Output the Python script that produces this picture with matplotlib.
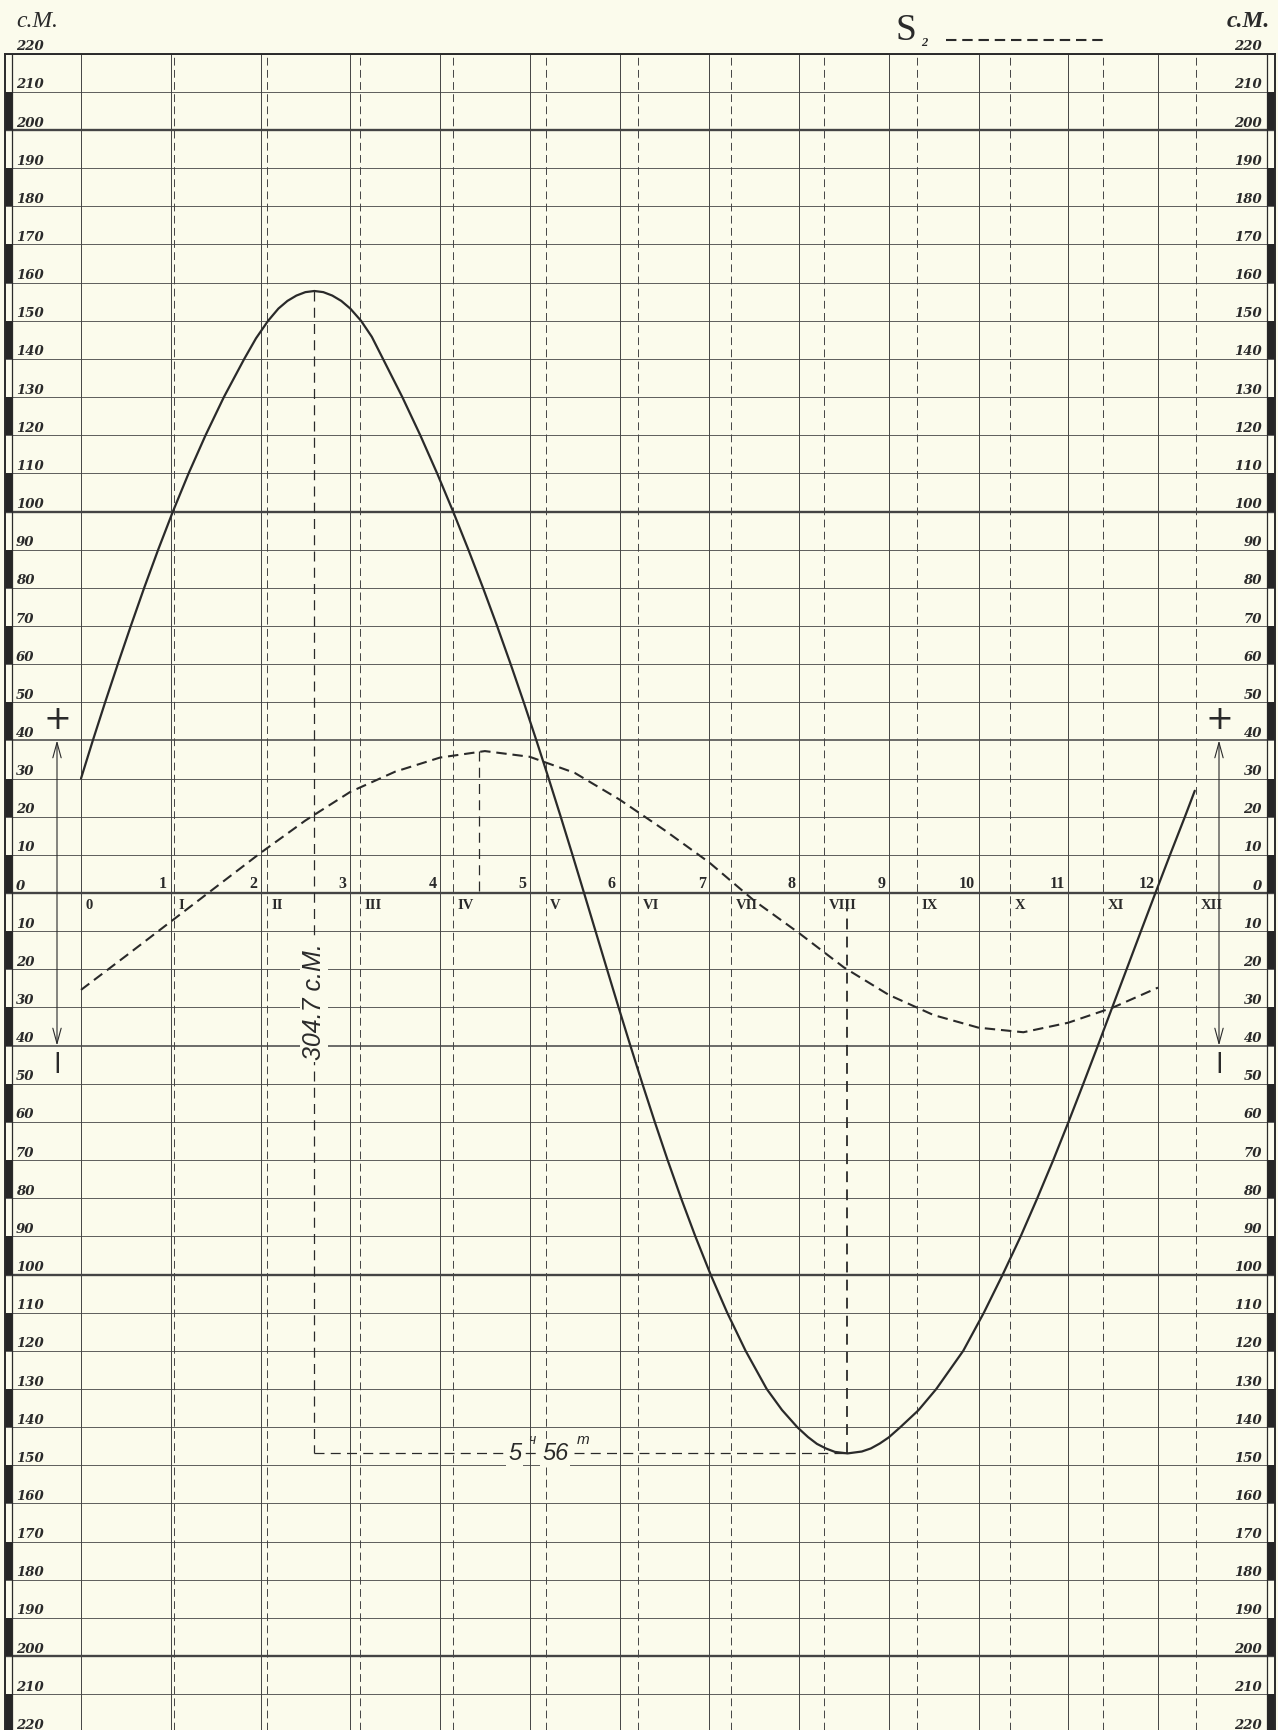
import matplotlib.pyplot as plt
from matplotlib.patches import Rectangle

# ---------------------------------------------------------
# Data (hours, c.M.)
# ---------------------------------------------------------

# plain curve: points where it crosses the 10 c.M. lines, plus extra points round the crest and trough
tide_hours = [0.000, 0.132, 0.269, 0.410, 0.555, 0.704, 0.860, 1.024, 1.199, 1.388,
              1.592, 1.819, 1.950, 2.085, 2.200, 2.300, 2.400, 2.500, 2.600, 2.700,
              2.800, 2.900, 3.000, 3.120, 3.240, 3.365, 3.580, 3.780, 3.968, 4.146,
              4.316, 4.479, 4.636, 4.787, 4.933, 5.074, 5.211, 5.345, 5.476, 5.605,
              5.733, 5.861, 5.990, 6.121, 6.255, 6.393, 6.536, 6.686, 6.845, 7.015,
              7.200, 7.405, 7.640, 7.810, 7.980, 8.100, 8.200, 8.300, 8.400, 8.540,
              8.700, 8.800, 8.900, 9.000, 9.130, 9.330, 9.530, 9.830, 10.060, 10.270,
              10.470, 10.655, 10.833, 11.003, 11.168, 11.330, 11.490, 11.650, 11.810, 11.971,
              12.134, 12.300, 12.410]
tide_cm = [30, 40, 50, 60, 70, 80, 90, 100, 110, 120,
           130, 140, 145.4, 150, 153.2, 155.2, 156.6, 157.5, 157.8, 157.5,
           156.6, 155.2, 153.2, 150, 145.8, 140, 130, 120, 110, 100,
           90, 80, 70, 60, 50, 40, 30, 20, 10, 0,
           -10, -20, -30, -40, -50, -60, -70, -80, -90, -100,
           -110, -120, -130, -135.5, -140, -142.6, -144.4, -145.6, -146.5, -146.9,
           -146.4, -145.6, -144.3, -142.7, -140, -135.6, -130, -120, -110, -100,
           -90, -80, -70, -60, -50, -40, -30, -20, -10, 0,
           10, 20, 26.8]

# dashed curve S2, read every half hour
s2_hours = [0.0, 0.5, 1.0, 1.5, 2.0, 2.5, 3.0, 3.5, 4.0, 4.5, 5.0, 5.5, 6.0,
            6.5, 7.0, 7.5, 8.0, 8.5, 9.0, 9.5, 10.0, 10.5, 11.0, 11.5, 12.0]
s2_cm = [-25.4, -16.5, -7.5, 1.5, 10.5, 19.0, 26.5, 31.8, 35.5, 37.2, 35.7, 31.5, 24.5,
         16.5, 8.0, -2.0, -10.5, -19.5, -26.7, -32.0, -35.3, -36.5, -34.0, -30.0, -24.8]

peak_hour, peak_cm = 2.60, 157.8
trough_hour, trough_cm = 8.54, -146.9
s2_peak_hour, s2_peak_cm = 4.43, 37.2
range_label = '304.7 c.M.'

solar_hours = list(range(0, 13))
lunar_labels = ['0', 'I', 'II', 'III', 'IV', 'V', 'VI', 'VII', 'VIII', 'IX', 'X', 'XI', 'XII']
lunar_hour = 1.0351          # one lunar hour in solar hours
levels = list(range(-220, 221, 10))

# ---------------------------------------------------------
# Page geometry (pixels of the scanned sheet)
# ---------------------------------------------------------
PAPER = '#fbfbec'
INK = '#2a2a2a'
GRID = '#444444'

W, H = 1278, 1730
x0_px, hour_px = 81, 89.75
left_px, right_px = 5, 1275
zero_px, cm_px = 893, 3.815
top_px = zero_px - 220 * cm_px

fig = plt.figure(figsize=(W / 100, H / 100), dpi=100, facecolor=PAPER)
ax = fig.add_axes([left_px / W, 0, (right_px - left_px) / W, (H - top_px) / H])
ax.set_facecolor(PAPER)


def hx(px):
    # sheet pixel column -> hours
    return (px - x0_px) / hour_px


xmin, xmax = hx(left_px), hx(right_px)
ymin = -(H - zero_px) / cm_px
ax.set_xlim(xmin, xmax)
ax.set_ylim(ymin, 220)
ax.set_xticks([])
ax.set_yticks([])
for side in ['left', 'right', 'top']:
    ax.spines[side].set_color(INK)
    ax.spines[side].set_linewidth(1.4)
ax.spines['bottom'].set_visible(False)

inner_left, inner_right = hx(12), hx(1267)

# horizontal lines every 10 c.M.
for v in levels:
    if v % 100 == 0:
        lw = 1.7
    elif abs(v) == 40:
        lw = 1.1
    else:
        lw = 0.6
    ax.axhline(v, color=GRID, lw=lw, zorder=1)

# solar hour lines (plain) and lunar hour lines (dashed)
for h in solar_hours:
    ax.axvline(h, color=GRID, lw=0.7, zorder=1)
for k in range(1, len(lunar_labels)):
    ax.axvline(k * lunar_hour, color=GRID, lw=0.7, ls=(0, (8, 4.5)), zorder=1)

# inner borders and the black/white scale strips
ax.axvline(inner_left, color=INK, lw=0.9, zorder=2)
ax.axvline(inner_right, color=INK, lw=0.9, zorder=2)
for v in levels[:-1]:
    if (v // 10) % 2 == 0:
        ax.add_patch(Rectangle((xmin, v), inner_left - xmin, 10, color='#262626', lw=0, zorder=2))
        ax.add_patch(Rectangle((inner_right, v), xmax - inner_right, 10, color='#262626', lw=0, zorder=2))

# level labels on both sides
lab_left, lab_right = hx(16), hx(1262)
lab_font = dict(family='DejaVu Serif', style='italic', weight='bold', fontsize=9.5, color=INK)
for v in levels:
    ax.text(lab_left, v + 0.9, str(abs(v)), ha='left', va='baseline', clip_on=False, zorder=4, **lab_font)
    ax.text(lab_right, v + 0.9, str(abs(v)), ha='right', va='baseline', clip_on=False, zorder=4, **lab_font)

# hour labels
for h in solar_hours[1:]:
    ax.text(h - 0.04, 1.4, str(h), ha='right', va='baseline', family='Liberation Serif',
            weight='bold', fontsize=11.5, color=INK, zorder=4)
for k, lab in enumerate(lunar_labels):
    ax.text(k * lunar_hour + 0.05, -1.6, lab, ha='left', va='top', family='Liberation Serif',
            weight='bold', fontsize=10.5, color=INK, zorder=4)

# ---------------------------------------------------------
# Curves
# ---------------------------------------------------------
ax.plot(tide_hours, tide_cm, color=INK, lw=1.6, solid_capstyle='round', solid_joinstyle='round', zorder=3)
s2_style = dict(color=INK, lw=1.5, ls=(0, (5, 2.8)))
ax.plot(s2_hours, s2_cm, zorder=3, **s2_style)

# construction lines
ann = dict(color=INK, lw=0.9, ls=(0, (8, 5)), zorder=3)
ax.plot([peak_hour, peak_hour], [peak_cm, trough_cm], **ann)
ax.plot([peak_hour, trough_hour], [trough_cm, trough_cm], **ann)
ax.plot([trough_hour, trough_hour], [trough_cm, 0], color=INK, lw=1.3, ls=(0, (6, 4)), zorder=3)
ax.plot([s2_peak_hour, s2_peak_hour], [s2_peak_cm, 0], **ann)

hand = dict(family='Liberation Sans', style='italic', color=INK, zorder=5)
cover = dict(facecolor=PAPER, edgecolor='none', pad=1.5)
ax.text(peak_hour, -28.5, range_label, rotation=90, ha='center', va='center', fontsize=18,
        bbox=cover, **hand)
ax.text(hx(508), trough_cm, '5', ha='left', va='center', fontsize=17, bbox=cover, **hand)
ax.text(hx(528), trough_cm + 3.4, 'ч', ha='left', va='center', fontsize=10, **hand)
ax.text(hx(542), trough_cm, '56', ha='left', va='center', fontsize=17, bbox=cover, **hand)
ax.text(hx(577), trough_cm + 3.4, 'm', ha='left', va='center', fontsize=11, **hand)

# + / - with double arrows on both sides
for xa in [hx(57), hx(1219)]:
    ax.annotate('', xy=(xa, 40), xytext=(xa, -40),
                arrowprops=dict(arrowstyle='<->,head_length=1.1,head_width=0.3', lw=0.8,
                                color=INK, shrinkA=0, shrinkB=0, mutation_scale=10), zorder=4)
    ax.text(xa, 45.5, '+', ha='center', va='center', fontsize=24, family='DejaVu Sans', color=INK)
    ax.text(xa, -44.5, '|', ha='center', va='center', fontsize=15, weight='bold',
            family='DejaVu Sans', color=INK)

# heading: units and the S2 key
ax.text(lab_left, 228.5, 'c.M.', ha='left', va='center', family='Liberation Serif',
        style='italic', fontsize=17, color=INK, clip_on=False)
ax.text(hx(1270), 228.5, 'c.M.', ha='right', va='center', family='Liberation Serif',
        style='italic', weight='bold', fontsize=17, color=INK, clip_on=False)
ax.text(hx(895), 226.0, 'S', ha='left', va='center', family='Liberation Serif',
        fontsize=27, color=INK, clip_on=False)
ax.text(hx(921), 222.8, '2', ha='left', va='center', family='Liberation Serif',
        style='italic', weight='bold', fontsize=9, color=INK, clip_on=False)
ax.plot([hx(946), hx(1105)], [223.6, 223.6], clip_on=False, **s2_style)

fig.savefig('out.png', dpi=100, facecolor=PAPER)
